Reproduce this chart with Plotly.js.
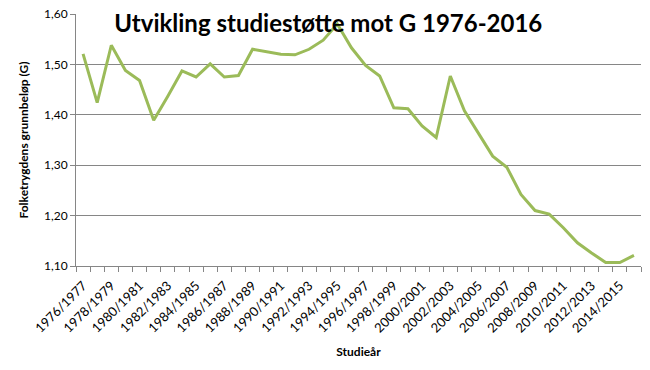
<!DOCTYPE html>
<html>
<head>
<meta charset="utf-8">
<script src="https://cdn.plot.ly/plotly-3.0.1.min.js"></script>
<style>html,body{margin:0;padding:0;background:#fff;}#chart{width:650px;height:370px;}</style>
</head>
<body>
<div id="chart"></div>
<script>
const categories = [
  "1976/1977","1977/1978","1978/1979","1979/1980","1980/1981","1981/1982","1982/1983","1983/1984",
  "1984/1985","1985/1986","1986/1987","1987/1988","1988/1989","1989/1990","1990/1991","1991/1992",
  "1992/1993","1993/1994","1994/1995","1995/1996","1996/1997","1997/1998","1998/1999","1999/2000",
  "2000/2001","2001/2002","2002/2003","2003/2004","2004/2005","2005/2006","2006/2007","2007/2008",
  "2008/2009","2009/2010","2010/2011","2011/2012","2012/2013","2013/2014","2014/2015","2015/2016"
];
const values = [
  1.521,1.424,1.538,1.488,1.468,1.389,1.437,1.487,
  1.475,1.501,1.475,1.478,1.530,1.525,1.520,1.519,
  1.530,1.548,1.580,1.533,1.498,1.477,1.414,1.412,
  1.378,1.355,1.477,1.408,1.362,1.318,1.296,1.242,
  1.210,1.203,1.176,1.146,1.126,1.107,1.107,1.121
];
const yTicks = [1.10,1.20,1.30,1.40,1.50,1.60];
const titleText = "Utvikling studiestøtte mot G 1976-2016";
const xTitle = "Studieår";
const yTitle = "Folketrygdens grunnbeløp (G)";

const xIdx = categories.map((c,i)=>i);
const labelIdx = xIdx.filter(i=>i%2===0);
const labelText = labelIdx.map(i=>categories[i]);

const font = "Lato, 'Open Sans', sans-serif";
const grid = "#868686";

Plotly.newPlot("chart", [{
  x: xIdx, y: values, type: "scatter", mode: "lines",
  line: {color: "#9BBB59", width: 3},
  hoverinfo: "skip"
}], {
  width: 650, height: 370,
  margin: {l: 76, r: 9, t: 14, b: 104},
  paper_bgcolor: "#fff", plot_bgcolor: "#fff",
  showlegend: false,
  font: {family: font, size: 12, color: "#000"},
  title: {text: "<b>" + titleText + "</b>", font: {family: font, size: 24, color: "#000"},
          x: 0.505, xanchor: "center", y: 0.935, yanchor: "middle", xref: "container", yref: "container"},
  xaxis: {
    range: [-0.5, 39.5], tickmode: "array", tickvals: labelIdx, ticktext: labelText,
    tickangle: -45, ticks: "", showgrid: false, zeroline: false,
    showline: true, linecolor: grid, linewidth: 1,
    tickfont: {family: font, size: 13, color: "#000"},
    ticklabelstandoff: 6,
    minor: {ticks: "outside", tick0: -0.5, dtick: 1, ticklen: 5, tickcolor: grid, showgrid: false},
    title: {text: "<b>" + xTitle + "</b>", font: {family: font, size: 12}, standoff: 12}
  },
  yaxis: {
    range: [1.10, 1.60], tickmode: "array", tickvals: yTicks, tickformat: ".2f",
    ticks: "outside", ticklen: 5, tickcolor: grid,
    showline: true, linecolor: grid, linewidth: 1,
    showgrid: true, gridcolor: grid, gridwidth: 1, zeroline: false,
    tickfont: {family: font, size: 12, color: "#000"},
    title: {text: "<b>" + yTitle + "</b>", font: {family: font, size: 12}, standoff: 12}
  },
  separators: ", "
}, {staticPlot: true, displayModeBar: false});
</script>
</body>
</html>
